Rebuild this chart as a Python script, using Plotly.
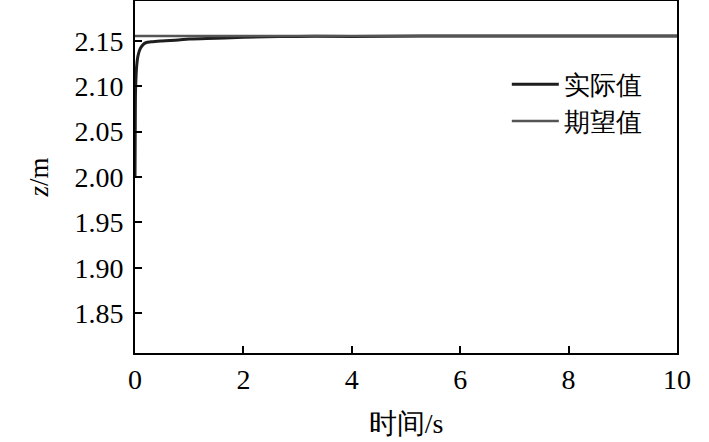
import plotly.graph_objects as go

# time (s) and height (m)
t_actual = [0, 0.005, 0.01, 0.02, 0.03, 0.05, 0.08, 0.1, 0.15, 0.2, 0.3, 0.5, 0.8, 1.0, 1.5, 2.0, 3.0, 4.0, 6.0, 8.0, 10.0]
z_actual = [2.000, 2.060, 2.095, 2.112, 2.122, 2.132, 2.139, 2.142, 2.146, 2.148, 2.149, 2.150, 2.151, 2.152, 2.153, 2.154, 2.155, 2.155, 2.1555, 2.1555, 2.1555]
t_desired = [0, 10]
z_desired = [2.1555, 2.1555]

y_ticks = [1.85, 1.90, 1.95, 2.00, 2.05, 2.10, 2.15]
x_ticks = [0, 2, 4, 6, 8, 10]

font = "Liberation Serif"

fig = go.Figure()
fig.add_trace(go.Scatter(x=t_actual, y=z_actual, mode="lines", name="实际值",
                         line=dict(color="#1e1e1e", width=3, shape="spline")))
fig.add_trace(go.Scatter(x=t_desired, y=z_desired, mode="lines", name="期望值",
                         line=dict(color="#555555", width=2.5)))

axis_common = dict(showgrid=False, zeroline=False, showline=True, linecolor="black",
                   linewidth=2, mirror=True, ticks="inside", ticklen=7, tickwidth=2,
                   tickcolor="black", automargin=False,
                   tickfont=dict(size=28, color="black", family=font))

fig.update_xaxes(range=[0, 10], tickvals=x_ticks,
                 title=dict(text="时间/s", font=dict(size=28, family=font, color="black"), standoff=20),
                 **axis_common)
fig.update_yaxes(range=[1.806, 2.194], tickvals=y_ticks, tickformat=".2f", ticklabelstandoff=4,
                 title=dict(text="<i>z</i>/m", font=dict(size=27, family=font, color="black"), standoff=18),
                 **axis_common)

fig.update_layout(
    width=709, height=442,
    margin=dict(l=135, r=32, t=1, b=89),
    paper_bgcolor="white", plot_bgcolor="white",
    font=dict(family=font, color="black"),
    legend=dict(x=0.686, y=0.83, xanchor="left", yanchor="top", bgcolor="rgba(0,0,0,0)",
                font=dict(size=26, family=font, color="black"), itemwidth=47, tracegroupgap=0),
)

# the page body has a default 8px margin; drop it so the figure sits at the window corner
fig.write_html("out.html", config={"displayModeBar": False},
               post_script="document.body.style.margin='0px';")
